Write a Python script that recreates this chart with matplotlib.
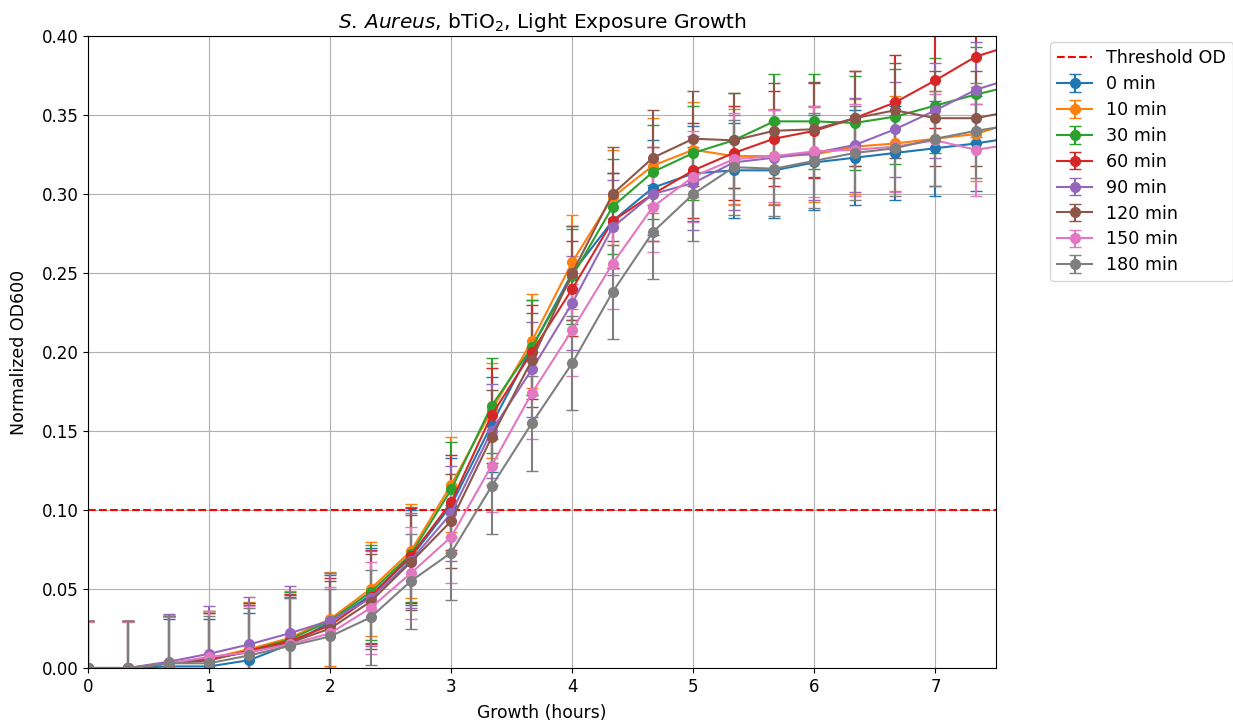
import numpy as np
import matplotlib
matplotlib.use('Agg')
import matplotlib.pyplot as plt

# growth time points, every 20 min
time_h = np.arange(24) / 3.0

labels = ['0 min', '10 min', '30 min', '60 min', '90 min', '120 min', '150 min', '180 min']

od_0 = [0.0, 0.0, 0.001, 0.001, 0.005, 0.015, 0.029, 0.046, 0.070, 0.103, 0.154, 0.203,
        0.250, 0.283, 0.304, 0.313, 0.315, 0.315, 0.320, 0.323, 0.326, 0.329, 0.332, 0.336]
od_10 = [0.0, 0.0, 0.003, 0.006, 0.012, 0.019, 0.031, 0.050, 0.074, 0.116, 0.163, 0.207,
         0.257, 0.298, 0.318, 0.328, 0.324, 0.324, 0.325, 0.330, 0.332, 0.335, 0.338, 0.346]
od_30 = [0.0, 0.0, 0.003, 0.005, 0.011, 0.018, 0.030, 0.048, 0.072, 0.113, 0.166, 0.203,
         0.248, 0.292, 0.314, 0.326, 0.334, 0.346, 0.346, 0.345, 0.349, 0.356, 0.363, 0.369]
od_60 = [0.0, 0.0, 0.003, 0.005, 0.011, 0.017, 0.027, 0.045, 0.071, 0.105, 0.160, 0.200,
         0.240, 0.283, 0.300, 0.315, 0.326, 0.335, 0.340, 0.348, 0.358, 0.372, 0.387, 0.395]
od_90 = [0.0, 0.0, 0.004, 0.009, 0.015, 0.022, 0.030, 0.044, 0.068, 0.098, 0.150, 0.189,
         0.231, 0.279, 0.300, 0.307, 0.320, 0.323, 0.326, 0.331, 0.341, 0.353, 0.366, 0.374]
od_120 = [0.0, 0.0, 0.003, 0.006, 0.010, 0.016, 0.025, 0.042, 0.067, 0.093, 0.146, 0.195,
          0.250, 0.300, 0.323, 0.335, 0.334, 0.340, 0.341, 0.348, 0.353, 0.348, 0.348, 0.353]
od_150 = [0.0, 0.0, 0.003, 0.007, 0.010, 0.015, 0.022, 0.038, 0.060, 0.083, 0.128, 0.174,
          0.214, 0.256, 0.292, 0.311, 0.322, 0.324, 0.327, 0.328, 0.330, 0.334, 0.328, 0.332]
od_180 = [0.0, 0.0, 0.003, 0.003, 0.008, 0.014, 0.020, 0.032, 0.055, 0.073, 0.115, 0.155,
          0.193, 0.238, 0.276, 0.300, 0.317, 0.316, 0.321, 0.326, 0.329, 0.335, 0.340, 0.344]

# std dev of each series (roughly constant)
err = [0.030, 0.030, 0.030, 0.030, 0.030, 0.030, 0.029, 0.030]

threshold = 0.1

series = [od_0, od_10, od_30, od_60, od_90, od_120, od_150, od_180]

fig = plt.figure(figsize=(12.33, 7.25), dpi=100)
ax = fig.add_axes([0.0714, 0.0786, 0.7364, 0.8717])

ax.axhline(threshold, color='red', linestyle='--', linewidth=1.5, label='Threshold OD')
for od, e, lab in zip(series, err, labels):
    ax.errorbar(time_h, od, yerr=e, marker='o', markersize=7, capsize=4, linewidth=1.5, label=lab)

ax.set_xlim(0, 7.5)
ax.set_ylim(0, 0.40)
ax.set_yticks(np.arange(0, 0.401, 0.05))
ax.set_yticklabels(['%.2f' % v for v in np.arange(0, 0.401, 0.05)])
ax.tick_params(labelsize=12)
ax.grid(True)
ax.set_xlabel('Growth (hours)', fontsize=12.3, labelpad=6)
ax.set_ylabel('Normalized OD600', fontsize=12.5, labelpad=10)
ax.set_title(r'$\it{S.\!\ Aureus}$, bTiO$_2$, Light Exposure Growth', fontsize=14.5, pad=6)

ax.legend(loc='upper left', bbox_to_anchor=(1.06, 0.99), borderaxespad=0, fontsize=12.6,
          labelspacing=0.45)

fig.savefig('out.png', dpi=100)
